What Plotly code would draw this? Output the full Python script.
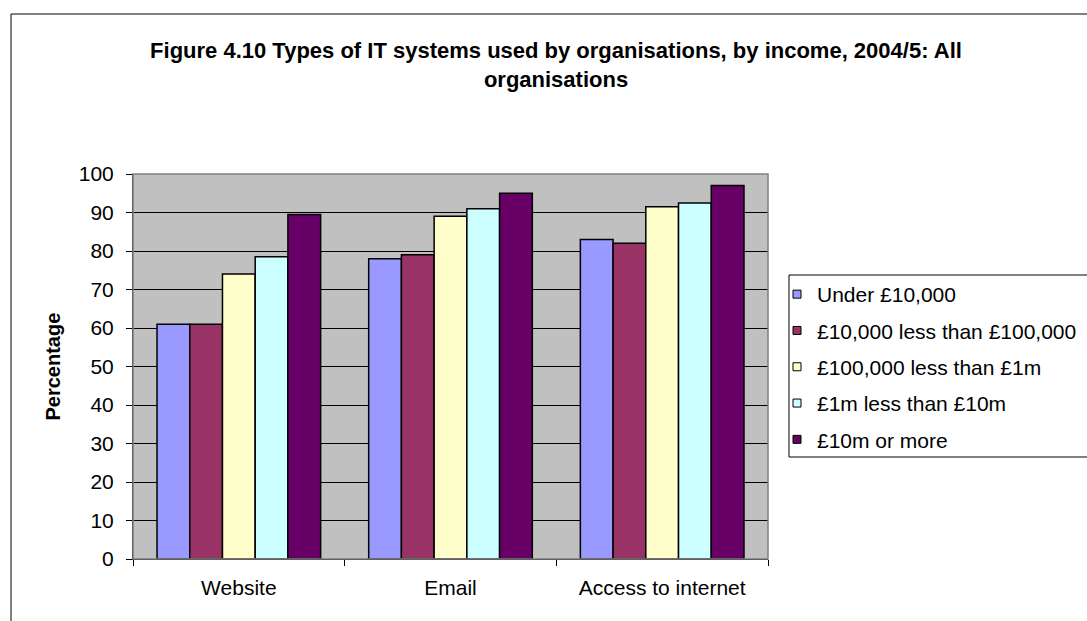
import plotly.graph_objects as go

# Data: share of organisations using each IT system, by income band
categories = ["Website", "Email", "Access to internet"]
bands = [
    "Under £10,000",
    "£10,000 less than £100,000",
    "£100,000 less than £1m",
    "£1m less than £10m",
    "£10m or more",
]
under_10k = [61, 78, 83]
k10_to_100k = [61, 79, 82]
k100_to_1m = [74, 89, 91.5]
m1_to_10m = [78.5, 91, 92.5]
m10_plus = [89.5, 95, 97]
y_ticks = list(range(0, 101, 10))

series = [under_10k, k10_to_100k, k100_to_1m, m1_to_10m, m10_plus]
colors = ["#9999FF", "#993366", "#FFFFCC", "#CCFFFF", "#660066"]

FONT = "Liberation Sans, Arial, sans-serif"
W, H = 1087, 621
ML, MR, MT, MB = 133, 0, 174, 62
PLOT_RIGHT = 768
paper_w = W - ML - MR
paper_h = H - MT - MB


def px_x(p):
    return (p - ML) / paper_w


def px_y(p):
    return (H - MB - p) / paper_h


fig = go.Figure()

for name, vals, col in zip(bands, series, colors):
    fig.add_trace(go.Bar(
        x=categories, y=vals, name=name,
        marker=dict(color=col, line=dict(color="black", width=1.5)),
        showlegend=False,
    ))

# legend swatches: small squares with black outline
for i, (name, col) in enumerate(zip(bands, colors)):
    fig.add_trace(go.Scatter(
        x=[None], y=[None], mode="markers", name=name,
        marker=dict(symbol="square", size=8, color=col,
                    line=dict(color="black", width=1)),
        legendgroup=f"g{i}", showlegend=True,
    ))

fig.update_layout(
    width=W, height=H,
    margin=dict(l=ML, r=MR, t=MT, b=MB, autoexpand=False),
    paper_bgcolor="white",
    plot_bgcolor="#C0C0C0",
    barmode="group",
    bargap=0.227,
    bargroupgap=0,
    font=dict(family=FONT, size=21, color="black"),
    title=dict(
        text="Figure 4.10 Types of IT systems used by organisations, by income, 2004/5: All<br>organisations",
        font=dict(family=FONT, size=22, color="black", weight="bold"),
        x=556 / W, xref="container", xanchor="center",
        y=1 - 58 / H, yref="container", yanchor="middle",
    ),
    legend=dict(
        x=px_x(777), xanchor="left",
        y=px_y(274), yanchor="top",
        bgcolor="rgba(0,0,0,0)",
        borderwidth=0,
        font=dict(family=FONT, size=21, color="black"),
        tracegroupgap=6,
        itemclick=False,
    ),
    showlegend=True,
)

fig.update_xaxes(
    domain=[0, (PLOT_RIGHT - ML) / paper_w],
    showline=True, linecolor="black", linewidth=1,
    ticks="outside", tickson="boundaries", ticklen=6, tickcolor="black",
    ticklabelstandoff=10,
    showgrid=False, zeroline=False,
)
fig.update_yaxes(
    range=[0, 100], tickvals=y_ticks,
    showline=True, linecolor="black", linewidth=1,
    ticks="outside", ticklen=6, tickcolor="black",
    ticklabelstandoff=8,
    showgrid=True, gridcolor="black", gridwidth=1,
    zeroline=False,
)

# plot-area frame (grey on top/right), outer chart frame, legend box
fig.add_shape(type="rect", xref="paper", yref="paper",
              x0=0, x1=(PLOT_RIGHT - ML) / paper_w, y0=0, y1=1,
              line=dict(color="#808080", width=1.5), layer="above")
fig.add_shape(type="rect", xref="paper", yref="paper",
              x0=px_x(11), x1=px_x(1110), y0=px_y(640), y1=px_y(14),
              line=dict(color="black", width=1))
fig.add_shape(type="rect", xref="paper", yref="paper",
              x0=px_x(789), x1=px_x(1100), y0=px_y(457), y1=px_y(275),
              line=dict(color="black", width=1))

# y-axis title
fig.add_annotation(
    text="<b>Percentage</b>", xref="paper", yref="paper",
    x=px_x(52), y=0.5, textangle=-90, showarrow=False,
    xanchor="center", yanchor="middle",
    font=dict(family=FONT, size=20, color="black"),
)

fig.write_html("out.html")
